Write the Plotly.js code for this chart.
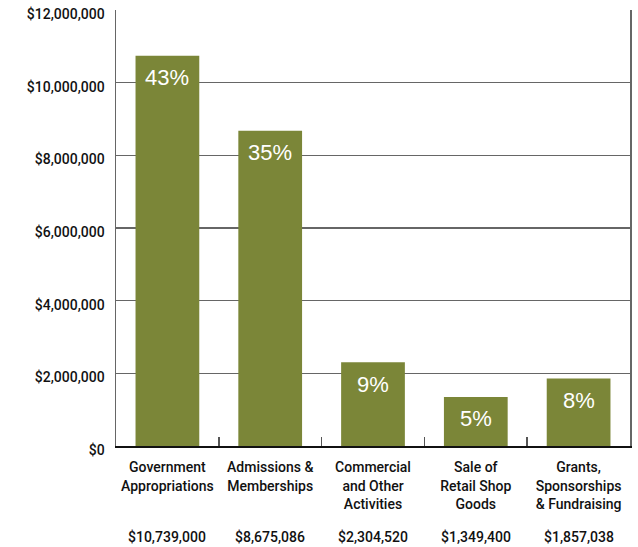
<!DOCTYPE html>
<html>
<head>
<meta charset="utf-8">
<script src="https://cdn.plot.ly/plotly-3.0.1.min.js"></script>
<style>
html,body{margin:0;padding:0;background:#fff;}
#chart{width:638px;height:547px;}
</style>
</head>
<body>
<div id="chart"></div>
<script>
var categories = ["Government<br>Appropriations", "Admissions &<br>Memberships", "Commercial<br>and Other<br>Activities", "Sale of<br>Retail Shop<br>Goods", "Grants,<br>Sponsorships<br>& Fundraising"];
var amounts = [10739000, 8675086, 2304520, 1349400, 1857038];
var percentLabels = ["43%", "35%", "9%", "5%", "8%"];
var amountLabels = ["$10,739,000", "$8,675,086", "$2,304,520", "$1,349,400", "$1,857,038"];
var yTickVals = [0, 2000000, 4000000, 6000000, 8000000, 10000000, 12000000];
var yTickText = ["$0", "$2,000,000", "$4,000,000", "$6,000,000", "$8,000,000", "$10,000,000", "$12,000,000"];

var xIdx = categories.map(function(_, i){ return i; });
var FONT = "Roboto, Liberation Sans, Arial, sans-serif";
var PFONT = "Liberation Sans, Arial, Helvetica, sans-serif";

var trace = {
  type: "bar",
  x: xIdx,
  y: amounts,
  marker: {color: "#7b8638", line: {width: 0}},
  hoverinfo: "skip"
};

var annotations = [];
xIdx.forEach(function(i){
  annotations.push({
    x: i, y: amounts[i], xref: "x", yref: "y",
    text: percentLabels[i], showarrow: false,
    yanchor: "middle", yshift: -22,
    font: {family: PFONT, size: 22, color: "#ffffff"}
  });
  annotations.push({
    x: i, y: -0.2087, xref: "x", yref: "paper",
    text: amountLabels[i], showarrow: false,
    yanchor: "middle",
    font: {family: FONT, size: 14, color: "#111111", weight: 500}
  });
});

var layout = {
  width: 638, height: 547,
  margin: {l: 116, r: 8, t: 10, b: 101},
  paper_bgcolor: "#ffffff", plot_bgcolor: "#ffffff",
  showlegend: false,
  bargap: 0.38,
  font: {family: FONT, size: 14, color: "#111111", weight: 500},
  xaxis: {
    type: "linear",
    range: [-0.5, 4.5],
    tickmode: "array",
    tickvals: xIdx,
    ticktext: categories,
    ticks: "",
    showgrid: false,
    zeroline: false,
    showline: true, linecolor: "#111111", linewidth: 1.5,
    mirror: false,
    tickfont: {family: FONT, size: 14, color: "#111111", weight: 500},
    ticklabelstandoff: 8,
    fixedrange: true
  },
  xaxis2: {
    overlaying: "x", matches: "x", range: [-0.5, 4.5],
    tickmode: "array", tickvals: [0.5, 1.5, 2.5, 3.5],
    ticks: "inside", ticklen: 9, tickwidth: 1.5, tickcolor: "#555555",
    showticklabels: false, showgrid: false, zeroline: false, showline: false
  },
  yaxis: {
    range: [0, 12000000],
    tickmode: "array",
    tickvals: yTickVals,
    ticktext: yTickText,
    ticks: "",
    showgrid: true, gridcolor: "#666666", gridwidth: 1.5,
    zeroline: false,
    showline: true, linecolor: "#666666", linewidth: 1.5,
    mirror: true,
    tickfont: {family: FONT, size: 14, color: "#111111", weight: 500},
    ticklabelstandoff: 7,
    ticklabelshift: 4,
    fixedrange: true
  },
  annotations: annotations
};

var dummy = {type: "scatter", x: [0], y: [0], xaxis: "x2", mode: "none", hoverinfo: "skip"};

Plotly.newPlot("chart", [trace, dummy], layout, {displayModeBar: false, staticPlot: true});
</script>
</body>
</html>
